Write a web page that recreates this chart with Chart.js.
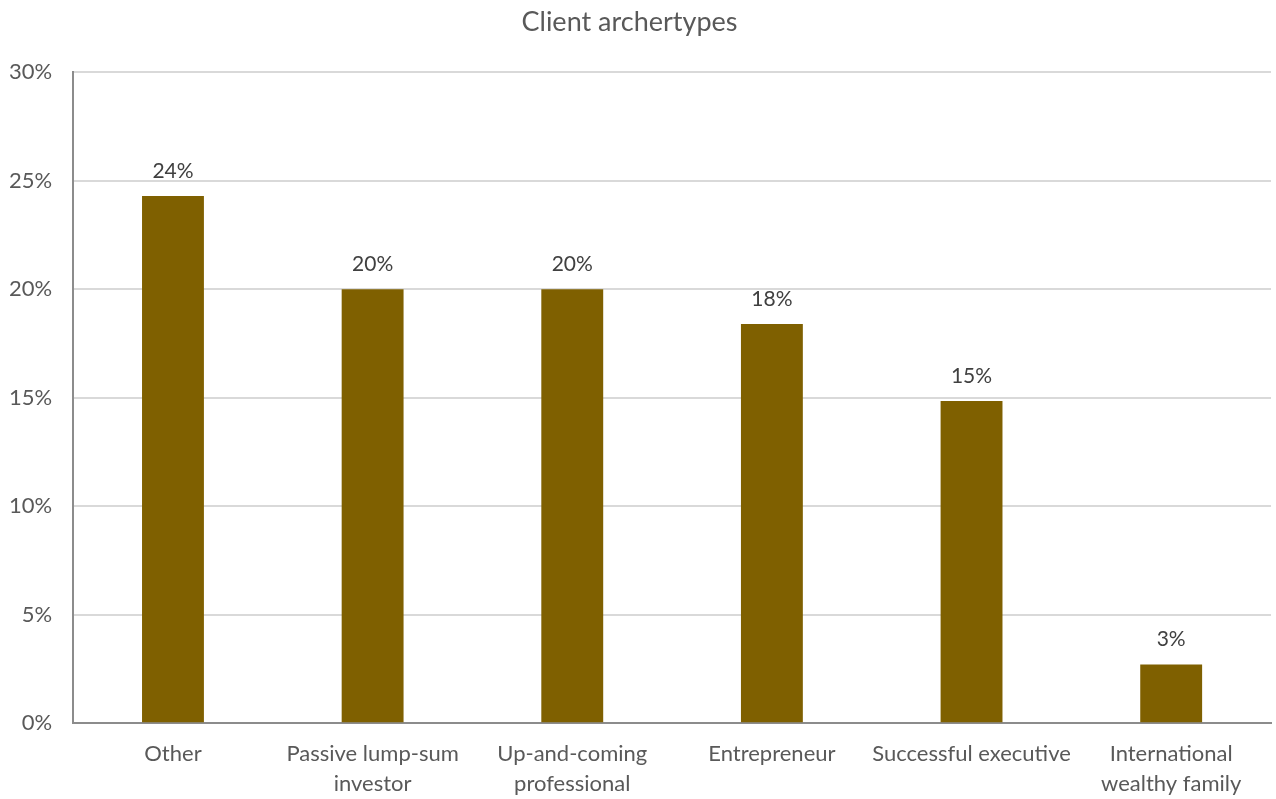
<!DOCTYPE html>
<html>
<head>
<meta charset="utf-8">
<script src="https://cdn.jsdelivr.net/npm/chart.js@4/dist/chart.umd.min.js"></script>
<style>
  html, body { margin: 0; padding: 0; background: #fff; }
  #wrap { width: 1276px; height: 799px; }
</style>
</head>
<body>
<div id="wrap"><canvas id="myChart" width="1276" height="799"></canvas></div>
<script>
const categories = [
  'Other',
  ['Passive lump-sum', 'investor'],
  ['Up-and-coming', 'professional'],
  'Entrepreneur',
  'Successful executive',
  ['International', 'wealthy family']
];
const shares = [24.3, 20.0, 20.0, 18.4, 14.85, 2.7];
const yTicks = [0, 5, 10, 15, 20, 25, 30];

const textColor = '#595959';
const fontFamily = 'Lato, "Open Sans", sans-serif';

// value labels above the bars
const barLabels = {
  id: 'barLabels',
  afterDatasetsDraw(chart) {
    const ctx = chart.ctx;
    const meta = chart.getDatasetMeta(0);
    ctx.save();
    ctx.fillStyle = '#404040';
    ctx.font = '21px ' + fontFamily;
    ctx.textAlign = 'center';
    ctx.textBaseline = 'middle';
    meta.data.forEach((bar, i) => {
      ctx.fillText(Math.round(shares[i]) + '%', bar.x, bar.y - 25);
    });
    ctx.restore();
  }
};

const ctx = document.getElementById('myChart').getContext('2d');
new Chart(ctx, {
  type: 'bar',
  data: {
    labels: categories,
    datasets: [{
      data: shares,
      backgroundColor: '#7f6000',
      categoryPercentage: 1,
      barPercentage: 0.31
    }]
  },
  options: {
    responsive: false,
    animation: false,
    layout: { padding: { top: 0, right: 5, bottom: -16, left: -12 } },
    plugins: {
      legend: { display: false },
      tooltip: { enabled: false },
      title: {
        display: true,
        text: 'Client archertypes',
        color: textColor,
        font: { family: fontFamily, size: 27, weight: 'normal', lineHeight: 1.2 },
        padding: { top: 6, bottom: 34 }
      }
    },
    scales: {
      x: {
        grid: { display: false, drawTicks: false },
        border: { color: '#8c8c8c', width: 2 },
        ticks: {
          color: textColor,
          font: { family: fontFamily, size: 22, lineHeight: 1.36 },
          padding: 16,
          maxRotation: 0,
          autoSkip: false
        }
      },
      y: {
        min: 0,
        max: 30,
        afterBuildTicks(axis) {
          axis.ticks = yTicks.map(v => ({ value: v }));
        },
        grid: { color: '#d9d9d9', lineWidth: 2, drawTicks: false },
        border: { color: '#8c8c8c', width: 2 },
        ticks: {
          color: textColor,
          font: { family: fontFamily, size: 22 },
          padding: 21,
          callback: v => v + '%'
        }
      }
    }
  },
  plugins: [barLabels]
});
</script>
</body>
</html>
